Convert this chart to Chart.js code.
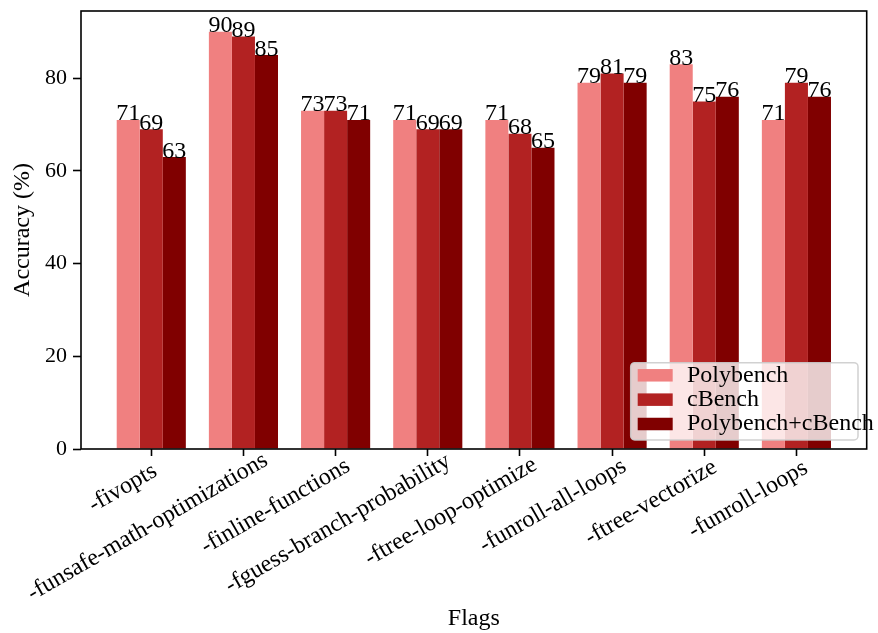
<!DOCTYPE html>
<html>
<head>
<meta charset="utf-8">
<script src="https://cdn.jsdelivr.net/npm/chart.js@4.4.1/dist/chart.umd.min.js"></script>
<style>
  html, body { margin: 0; padding: 0; background: #ffffff; }
  #wrap { width: 878px; height: 633px; }
</style>
</head>
<body>
<div id="wrap"><canvas id="chart" width="878" height="633"></canvas></div>
<script>
// Compiler flags and accuracy per training set
const categories = [
  '-fivopts',
  '-funsafe-math-optimizations',
  '-finline-functions',
  '-fguess-branch-probability',
  '-ftree-loop-optimize',
  '-funroll-all-loops',
  '-ftree-vectorize',
  '-funroll-loops'
];
const polybench = [71, 90, 73, 71, 71, 79, 83, 71];
const cbench    = [69, 89, 73, 69, 68, 81, 75, 79];
const combined  = [63, 85, 71, 69, 65, 79, 76, 76];
const yTicks = [0, 20, 40, 60, 80];
const seriesNames = ['Polybench', 'cBench', 'Polybench+cBench'];
const seriesColors = ['#F08080', '#B22222', '#800000'];

const FONT = "'Liberation Serif', 'Times New Roman', serif";
const toPoints = arr => arr.map((v, i) => ({ x: i, y: v }));

// Frame around the plot area (all four sides)
const framePlugin = {
  id: 'frame',
  afterDatasetsDraw(chart) {
    const { ctx, chartArea: a } = chart;
    ctx.save();
    ctx.strokeStyle = '#000';
    ctx.lineWidth = 1.6;
    ctx.strokeRect(a.left, a.top, a.right - a.left, a.bottom - a.top);
    ctx.restore();
  }
};

// Value labels on top of every bar
const valueLabels = {
  id: 'valueLabels',
  afterDatasetsDraw(chart) {
    const { ctx } = chart;
    ctx.save();
    ctx.font = '24px ' + FONT;
    ctx.fillStyle = '#000';
    ctx.textAlign = 'center';
    ctx.textBaseline = 'alphabetic';
    chart.data.datasets.forEach((ds, di) => {
      const meta = chart.getDatasetMeta(di);
      meta.data.forEach((bar, i) => {
        ctx.fillText(String(ds.data[i].y), bar.x, bar.y + 0.5);
      });
    });
    ctx.restore();
  }
};

// Rotated flag names under the x ticks; right end set from a slightly
// narrower measuring size, so long names run a little past their tick
const flagLabels = {
  id: 'flagLabels',
  afterDraw(chart) {
    const { ctx } = chart;
    const xs = chart.scales.x;
    ctx.save();
    ctx.fillStyle = '#000';
    ctx.textAlign = 'right';
    ctx.textBaseline = 'alphabetic';
    categories.forEach((label, i) => {
      ctx.font = '21.4px ' + FONT;
      const wc = ctx.measureText(label).width;
      ctx.font = '24px ' + FONT;
      const wd = ctx.measureText(label).width;
      const px = xs.getPixelForValue(i);
      ctx.save();
      ctx.translate(px, xs.top + 30);
      ctx.rotate(-Math.PI / 6);
      ctx.fillText(label, wd - wc, 0);
      ctx.restore();
    });
    ctx.restore();
  }
};

// Legend box in the lower right corner of the plot area
const cornerLegend = {
  id: 'cornerLegend',
  afterDraw(chart) {
    const { ctx, chartArea: a } = chart;
    const w = 227.3, h = 77.3;
    const x0 = a.right - 8.7 - w;
    const y0 = a.bottom - 9 - h;
    ctx.save();
    ctx.beginPath();
    ctx.roundRect(x0, y0, w, h, 4);
    ctx.fillStyle = 'rgba(255,255,255,0.8)';
    ctx.fill();
    ctx.strokeStyle = 'rgba(204,204,204,0.9)';
    ctx.lineWidth = 1.5;
    ctx.stroke();
    ctx.font = '24px ' + FONT;
    ctx.textAlign = 'left';
    ctx.textBaseline = 'alphabetic';
    chart.data.datasets.forEach((ds, i) => {
      const cy = y0 + 12.6 + i * 24.35;
      ctx.fillStyle = ds.backgroundColor;
      ctx.fillRect(x0 + 7, cy - 6.25, 35, 12.5);
      ctx.fillStyle = '#000';
      ctx.fillText(ds.label, x0 + 56.3, cy + 6.4);
    });
    ctx.restore();
  }
};

const datasets = [polybench, cbench, combined].map((arr, i) => ({
  label: seriesNames[i],
  data: toPoints(arr),
  backgroundColor: seriesColors[i],
  borderWidth: 0,
  categoryPercentage: 0.75,
  barPercentage: 1.0
}));

new Chart(document.getElementById('chart'), {
  type: 'bar',
  data: { datasets },
  plugins: [framePlugin, valueLabels, flagLabels, cornerLegend],
  options: {
    responsive: false,
    animation: false,
    devicePixelRatio: 1,
    layout: { padding: { left: 0, top: 11, right: 11.3, bottom: 0 } },
    plugins: {
      legend: { display: false },
      tooltip: { enabled: false }
    },
    scales: {
      x: {
        type: 'linear',
        offset: false,
        min: -0.7625,
        max: 7.7625,
        afterBuildTicks(scale) {
          scale.ticks = categories.map((_, i) => ({ value: i }));
        },
        afterFit(scale) {
          scale.height = 633 - 449;
          scale.paddingLeft = 0;
          scale.paddingRight = 0;
        },
        grid: {
          display: true,
          offset: false,
          drawOnChartArea: false,
          drawTicks: true,
          tickLength: 7,
          tickWidth: 1.6,
          tickColor: '#000'
        },
        border: { display: false },
        ticks: {
          display: false,
          autoSkip: false
        },
        title: {
          display: true,
          text: 'Flags',
          color: '#000',
          font: { family: FONT, size: 24, lineHeight: 1.2 },
          padding: { top: 0, bottom: 0 }
        }
      },
      y: {
        min: 0,
        max: 94.5,
        afterBuildTicks(scale) {
          scale.ticks = yTicks.map(v => ({ value: v }));
        },
        afterFit(scale) {
          scale.width = 81;
          scale.paddingTop = 0;
          scale.paddingBottom = 0;
        },
        grid: {
          display: true,
          drawOnChartArea: false,
          drawTicks: true,
          tickLength: 8,
          tickWidth: 1.6,
          tickColor: '#000'
        },
        border: { display: false },
        ticks: {
          padding: 6,
          color: '#000',
          font: { family: FONT, size: 22 }
        },
        title: {
          display: true,
          text: 'Accuracy (%)',
          color: '#000',
          font: { family: FONT, size: 24, lineHeight: 1.2 },
          padding: { top: 8.6, bottom: 0 }
        }
      }
    }
  }
});
</script>
</body>
</html>
